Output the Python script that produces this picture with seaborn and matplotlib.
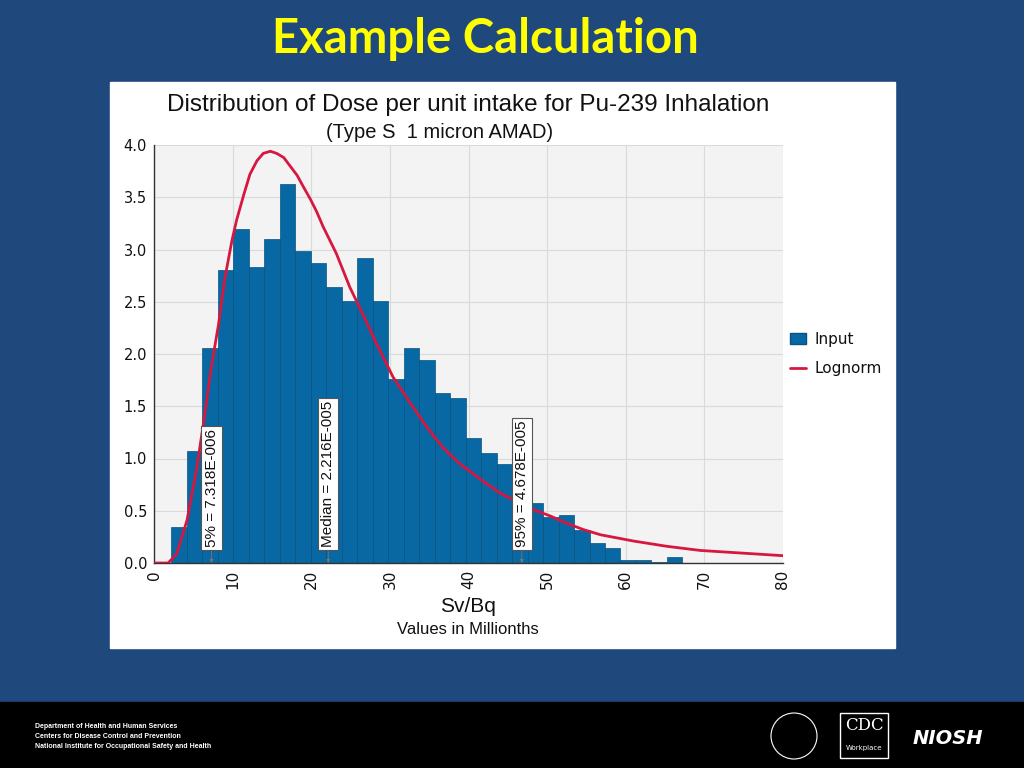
import numpy as np
import pandas as pd
import seaborn as sns
import matplotlib.pyplot as plt
from matplotlib import font_manager
from matplotlib.patches import Rectangle, Patch, Ellipse
from matplotlib.lines import Line2D

# histogram of the input samples (values in millionths of Sv/Bq)
bin_start = 2.2
bin_width = 1.97
heights = [0.34, 1.075, 2.055, 2.80, 3.20, 2.83, 3.10, 3.63, 2.99, 2.87,
           2.64, 2.51, 2.92, 2.51, 1.76, 2.06, 1.94, 1.63, 1.58, 1.20,
           1.05, 0.95, 1.08, 0.57, 0.44, 0.46, 0.32, 0.19, 0.14, 0.03,
           0.03, 0.01, 0.06]

# fitted lognormal curve
curve_x = [0, 1.8, 2.9, 4.2, 5.4, 6.3, 7.3, 8.2, 9.0, 9.9, 10.5, 11.4, 12.2,
           13.1, 13.9, 14.8, 15.6, 16.5, 17.3, 18.2, 19.0, 19.9, 20.7, 21.5,
           23.2, 24.9, 26.5, 28.3, 30.4, 32.6, 34.7, 36.8, 38.9, 41.9, 44.0,
           46.1, 48.3, 50.4, 52.5, 54.6, 56.8, 61.0, 65.2, 69.5, 73.7, 80.0]
curve_y = [0, 0, 0.09, 0.41, 0.89, 1.34, 1.88, 2.28, 2.72, 3.08, 3.28, 3.52, 3.72,
           3.85, 3.92, 3.94, 3.92, 3.88, 3.80, 3.71, 3.60, 3.48, 3.36, 3.22,
           2.96, 2.64, 2.39, 2.10, 1.78, 1.53, 1.30, 1.10, 0.95, 0.78, 0.67,
           0.59, 0.51, 0.45, 0.38, 0.32, 0.27, 0.21, 0.16, 0.12, 0.10, 0.07]

marker_vals = [7.318, 22.16, 46.78]
marker_labels = ['5% = 7.318E-006', 'Median = 2.216E-005', '95% = 4.678E-005']

x_ticks = [0, 10, 20, 30, 40, 50, 60, 70, 80]
y_ticks = [0.0, 0.5, 1.0, 1.5, 2.0, 2.5, 3.0, 3.5, 4.0]

sns.set_style('white')
names = {f.name for f in font_manager.fontManager.ttflist}
narrow = 'Liberation Sans Narrow' if 'Liberation Sans Narrow' in names else 'Liberation Sans'
plt.rcParams['font.family'] = ['DejaVu Sans']

fig = plt.figure(figsize=(10.24, 7.68), dpi=100, facecolor='#1F497D')

# white chart panel and black footer
fig.patches.append(Rectangle((110 / 1024, 1 - 648 / 768), 785 / 1024, 566 / 768,
                             transform=fig.transFigure, color='white', zorder=-2))
fig.patches.append(Rectangle((0, 0), 1, 66 / 768, transform=fig.transFigure,
                             color='black', zorder=-2))

fig.text(0.474, 1 - 39 / 768, 'Example Calculation', color='#FFFF00', fontsize=34,
         fontweight='bold', family='Lato', ha='center', va='center')

ax = fig.add_axes([154 / 1024, 1 - 563 / 768, 629 / 1024, 418 / 768])
ax.set_zorder(3)
ax.set_facecolor('#F3F3F3')

hist_df = pd.DataFrame({
    'center': [bin_start + bin_width * (i + 0.5) for i in range(len(heights))],
    'height': heights,
})
edges = [bin_start + bin_width * i for i in range(len(heights) + 1)]
sns.histplot(data=hist_df, x='center', weights='height', bins=edges,
             color='#0868A3', edgecolor='#07527F', linewidth=0.5, alpha=1,
             ax=ax, zorder=2)
sns.lineplot(x=curve_x, y=curve_y, color='#D7173F', linewidth=2, ax=ax, zorder=3)

for v, lab in zip(marker_vals, marker_labels):
    ax.annotate(lab, xy=(v, 0.0), xytext=(v, 0.15), rotation=90, ha='center',
                va='bottom', fontsize=11, family='Liberation Sans', color='#111111',
                zorder=5,
                bbox=dict(boxstyle='square,pad=0.2', fc='white', ec='#555555', lw=0.8),
                arrowprops=dict(arrowstyle='-|>', color='#777777', lw=0.6,
                                mutation_scale=5, shrinkA=0, shrinkB=0))

ax.set_xlim(0, 80)
ax.set_ylim(0, 4.0)
ax.set_xticks(x_ticks)
ax.set_yticks(y_ticks)
ax.set_xticklabels([str(t) for t in x_ticks], rotation=90, fontsize=11, color='#111111')
ax.set_yticklabels([f'{t:.1f}' for t in y_ticks], fontsize=10.5, color='#111111')
ax.tick_params(direction='out', length=3, color='#444444', pad=2)
ax.grid(True, color='#DADADA', linewidth=0.8, zorder=0)
ax.set_axisbelow(True)
for s in ['top', 'right']:
    ax.spines[s].set_visible(False)
for s in ['left', 'bottom']:
    ax.spines[s].set_color('#333333')
    ax.spines[s].set_linewidth(1)
ax.set_xlabel('')
ax.set_ylabel('')

handles = [Patch(facecolor='#0868A3', edgecolor='#07527F', label='Input'),
           Line2D([0], [0], color='#D7173F', lw=2, label='Lognorm')]
leg = ax.legend(handles=handles, loc='center left', bbox_to_anchor=(0.99, 0.5),
                frameon=False, fontsize=11, handlelength=1.0, handletextpad=0.6,
                labelspacing=0.9)
for t in leg.get_texts():
    t.set_color('#111111')

fig.text(468 / 1024, 1 - 105 / 768,
         'Distribution of Dose per unit intake for Pu-239 Inhalation',
         family=narrow, fontsize=17.5, ha='center', va='center', color='#111111')
fig.text(440 / 1024, 1 - 132 / 768, '(Type S  1 micron AMAD)', family=narrow,
         fontsize=14.5, ha='center', va='center', color='#111111')
fig.text(468 / 1024, 1 - 607 / 768, 'Sv/Bq', family=narrow, fontsize=15,
         ha='center', va='center', color='#111111')
fig.text(468 / 1024, 1 - 630 / 768, 'Values in Millionths', family=narrow,
         fontsize=12, ha='center', va='center', color='#111111')

# footer
footer = ['Department of Health and Human Services',
          'Centers for Disease Control and Prevention',
          'National Institute for Occupational Safety and Health']
for i, line in enumerate(footer):
    fig.text(35 / 1024, 1 - (727 + i * 10) / 768, line, color='white', fontsize=5,
             family=narrow, fontweight='bold', va='center')
fig.patches.append(Ellipse((794 / 1024, 1 - 736 / 768), 46 / 1024, 46 / 768,
                           transform=fig.transFigure, fill=False, ec='white', lw=0.8))
fig.patches.append(Rectangle((840 / 1024, 1 - 758 / 768), 48 / 1024, 45 / 768,
                             transform=fig.transFigure, fill=False, ec='white', lw=1))
fig.text(864 / 1024, 1 - 726 / 768, 'CDC', color='white', fontsize=12,
         family='DejaVu Serif', ha='center', va='center')
fig.text(864 / 1024, 1 - 748 / 768, 'Workplace', color='white', fontsize=5,
         ha='center', va='center')
fig.text(948 / 1024, 1 - 738 / 768, 'NIOSH', color='white', fontsize=14,
         fontweight='bold', style='italic', ha='center', va='center')

fig.savefig('out.png', dpi=100, facecolor=fig.get_facecolor())
